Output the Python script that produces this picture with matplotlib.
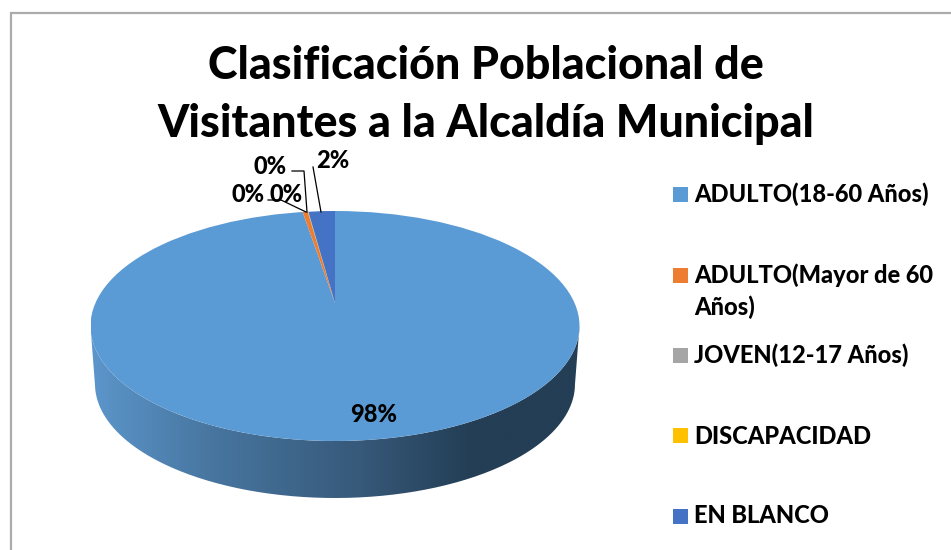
import numpy as np
import matplotlib
matplotlib.use("Agg")
import matplotlib.pyplot as plt
from matplotlib.patches import Ellipse, PathPatch, Rectangle
from matplotlib.path import Path
from matplotlib.colors import LinearSegmentedColormap

TITLE = "Clasificación Poblacional de\nVisitantes a la Alcaldía Municipal"
categories = ["ADULTO(18-60 Años)", "ADULTO(Mayor de 60\nAños)", "JOVEN(12-17 Años)", "DISCAPACIDAD", "EN BLANCO"]
values = [97.36, 0.42, 0.03, 0.02, 2.17]
labels = ["98%", "0%", "0%", "0%", "2%"]
colors = ["#5B9BD5", "#ED7D31", "#A5A5A5", "#FFC000", "#4472C4"]

W, H = 951, 550
plt.rcParams["font.family"] = ["Lato", "DejaVu Sans"]
fig = plt.figure(figsize=(W / 100, H / 100), dpi=100, facecolor="white")
ax = fig.add_axes([0, 0, 1, 1])
ax.set_xlim(0, W); ax.set_ylim(H, 0); ax.axis("off")

# chart border
ax.plot([10.5, 10.5, 951], [550, 13, 13], color="#ABABAB", lw=1.6, solid_joinstyle="miter")

# pie geometry (pixels)
cx, cy, rx, ry = 335, 326, 244.5, 115
bx, by, brx, bry = 335, 384, 240, 114

# side wall with horizontal gradient
t = np.linspace(np.pi, 0, 200)
xs = np.r_[cx - rx, bx + brx * np.cos(t), cx + rx, cx + rx * np.cos(t[::-1])]
ys = np.r_[cy, by + bry * np.sin(t), cy, cy + ry * np.sin(t[::-1])]
wall = Path(np.c_[xs, ys])
cmap = LinearSegmentedColormap.from_list("w", [(0, "#5C96CB"), (0.25, "#47759F"), (0.55, "#37597A"), (0.78, "#233E55"), (1, "#233E55")])
im = ax.imshow(np.linspace(0, 1, 256)[None, :], extent=(cx - rx, cx + rx, by + bry, cy), cmap=cmap, aspect="auto", zorder=2)
clip = PathPatch(wall, transform=ax.transData, fc="none", ec="none")
ax.add_patch(clip); im.set_clip_path(clip)
ax.set_xlim(0, W); ax.set_ylim(H, 0)

# top face: pie in a squashed axes, wedges meet above the ellipse centre
axp = fig.add_axes([(cx - rx) / W, 1 - (cy + ry) / H, 2 * rx / W, 2 * ry / H])
wedges, _ = axp.pie(values, colors=colors, startangle=90, counterclock=False, radius=3,
                    center=(0, 0.2), wedgeprops=dict(linewidth=0))
axp.set_aspect("auto"); axp.set_xlim(-1, 1); axp.set_ylim(-1, 1); axp.axis("off")
face = Ellipse((0, 0), 2, 2, transform=axp.transData, fc="none", ec="none")
axp.add_patch(face)
for w in wedges:
    w.set_clip_on(True)
    w.set_clip_path(face)

# overlay axes for text, above the pie
axt = fig.add_axes([0, 0, 1, 1])
axt.set_xlim(0, W); axt.set_ylim(H, 0); axt.axis("off")

BOLD = 900
# title
axt.text(486, 66, TITLE.split("\n")[0], ha="center", va="center", fontsize=32.2, fontweight=BOLD, color="black")
axt.text(486, 124, TITLE.split("\n")[1], ha="center", va="center", fontsize=32.2, fontweight=BOLD, color="black")

# data labels
lab_pos = [(374, 414), (270, 166), (248, 195), (286, 195), (333, 160)]
for (x, y), s in zip(lab_pos, labels):
    axt.text(x, y, s, ha="center", va="center", fontsize=17, fontweight=BOLD, color="black", zorder=5)

# leader lines
axt.plot([292, 304, 307], [171, 171, 212], color="black", lw=0.9, zorder=5)
axt.plot([268, 281, 306], [200, 200, 212], color="black", lw=0.9, zorder=5)
axt.plot([313, 321], [167, 212], color="black", lw=0.9, zorder=5)

# legend
leg_y = [194.5, 275.5, 355.5, 435.5, 516.5]
base_y = [202, 283, 363, 444, 523]
for y, b, c, s in zip(leg_y, base_y, colors, categories):
    axt.add_patch(Rectangle((673, y - 7.5), 15, 15, fc=c, ec="none"))
    first, *rest = s.split("\n")
    axt.text(694, b, first, ha="left", va="baseline", fontsize=17, fontweight=BOLD, color="black")
    if rest:
        axt.text(694, b + 32, rest[0], ha="left", va="baseline", fontsize=17, fontweight=BOLD, color="black")

fig.savefig("out.png", dpi=100, facecolor="white")
